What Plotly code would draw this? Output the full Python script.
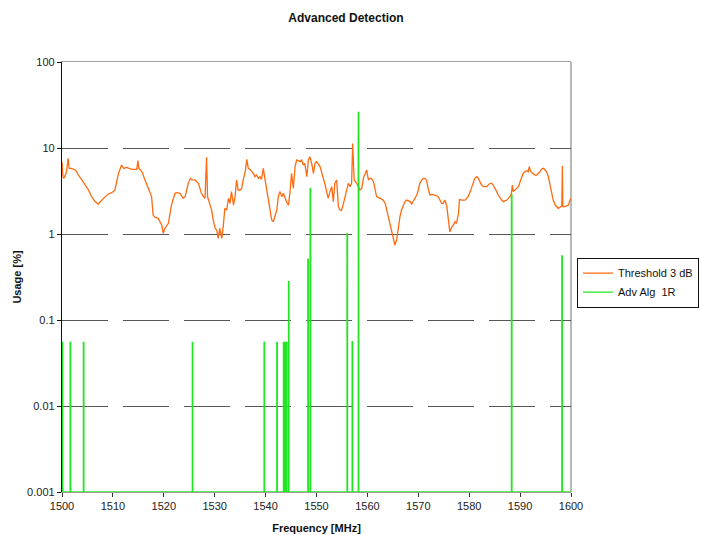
import plotly.graph_objects as go

# Threshold 3 dB usage curve (frequency in MHz, usage in %)
thr_freq = [
    1500.0, 1500.2, 1500.4, 1500.6, 1500.9, 1501.2, 1501.4, 1501.9, 1502.6, 1502.9,
    1503.2, 1503.9, 1504.5, 1505.2, 1505.8, 1506.5, 1507.1, 1507.8, 1508.5, 1509.1,
    1509.8, 1510.4, 1511.1, 1511.7, 1512.1, 1512.7, 1513.7, 1514.7, 1514.9, 1515.1,
    1515.7, 1516.3, 1517.0, 1517.6, 1517.9, 1518.3, 1518.9, 1519.6, 1519.9, 1520.2,
    1520.9, 1521.2, 1521.5, 1521.9, 1522.2, 1522.5, 1523.2, 1523.8, 1524.2, 1524.8,
    1525.2, 1525.5, 1526.1, 1526.8, 1527.4, 1527.8, 1528.1, 1528.4, 1528.6, 1528.8,
    1529.1, 1529.4, 1529.7, 1530.1, 1530.4, 1530.7,
    1531.0, 1531.4, 1531.7, 1532.0, 1532.35, 1532.7, 1533.0, 1533.3, 1533.7, 1534.0,
    1534.3, 1534.6, 1535.0, 1535.3, 1535.6, 1536.0, 1536.3, 1536.6, 1536.9, 1537.6,
    1537.9, 1538.2, 1538.6, 1538.9, 1539.2, 1539.55, 1539.9, 1540.2, 1540.5, 1540.9,
    1541.2, 1541.5, 1541.85, 1542.2, 1542.5, 1542.8, 1543.2, 1543.5, 1544.1, 1544.5,
    1544.8, 1545.1, 1545.45, 1545.8, 1546.1, 1546.8, 1547.1, 1547.4, 1547.7, 1548.1,
    1548.4, 1548.7, 1549.05, 1549.4, 1549.7, 1550.0, 1550.7, 1551.3, 1551.7, 1552.0,
    1552.3, 1552.65, 1553.0, 1553.3, 1553.6, 1553.96, 1554.3, 1554.6, 1554.9, 1555.3,
    1555.6, 1555.9, 1556.25, 1556.6, 1556.9, 1557.1, 1557.4, 1557.9, 1558.2, 1558.55,
    1558.9, 1559.2, 1559.85, 1560.2, 1560.5, 1560.8, 1561.2,
    1561.8, 1562.5, 1563.1, 1563.5, 1563.8, 1564.1, 1564.4, 1564.8, 1565.1, 1565.4,
    1565.75, 1566.1, 1566.4, 1566.7, 1567.1, 1567.4, 1567.7, 1568.4, 1568.7, 1569.0,
    1569.35, 1569.7, 1570.0, 1570.3, 1570.7, 1571.0, 1571.3, 1571.6, 1572.0, 1572.2,
    1572.3, 1572.6, 1573.3, 1573.9, 1574.3, 1574.6, 1574.9, 1575.25, 1575.6, 1575.9,
    1576.2, 1576.6, 1576.9, 1577.2, 1577.5, 1577.7, 1577.9, 1578.1, 1578.5, 1579.2,
    1579.5, 1579.8, 1580.2, 1580.5, 1580.8, 1581.1, 1581.5, 1581.8, 1582.1, 1582.45,
    1582.8, 1583.4, 1584.1, 1584.4, 1584.7, 1585.1, 1585.4, 1585.7, 1586.05, 1586.4,
    1586.7, 1587.4, 1587.7, 1588.0, 1588.3, 1588.47, 1588.67, 1589.3, 1589.65, 1590.0,
    1590.3, 1590.6, 1591.0, 1591.3, 1591.6, 1591.8, 1592.1, 1592.6, 1592.9, 1593.25,
    1593.9, 1594.2, 1594.6, 1594.9, 1595.2, 1595.55, 1595.9, 1596.2, 1596.5, 1596.9,
    1597.2, 1597.5, 1597.8, 1598.2, 1598.3, 1598.4, 1598.8, 1599.5, 1599.8, 1600.0,
]
thr_usage = [
    6.9, 4.6, 4.44, 4.85, 5.31, 7.58, 5.8, 5.8, 5.55, 5.31,
    4.85, 4.25, 3.71, 3.25, 2.72, 2.38, 2.23, 2.48, 2.72, 2.92,
    3.02, 3.25, 5.07, 6.34, 5.80, 5.96, 5.65, 5.65, 7.12, 5.80,
    5.31, 4.25, 3.25, 2.72, 1.66, 1.56, 1.52, 1.27, 1.02, 1.16,
    1.33, 1.66, 2.17, 2.60, 2.97, 3.02, 2.97, 2.60, 2.72, 3.88,
    4.44, 4.25, 4.25, 3.88, 2.97, 2.72, 2.60, 7.79, 2.72, 2.48,
    2.08, 1.90, 1.46, 1.16, 1.11, 0.89,
    1.16, 0.89, 1.27, 1.99, 1.90, 2.60, 2.27, 3.11, 2.17, 2.72,
    4.25, 3.25, 3.25, 3.40, 4.25, 5.31, 7.38, 5.80, 5.65, 5.07,
    4.64, 4.85, 4.44, 4.64, 4.32, 5.80, 4.25, 3.25, 2.48, 1.90,
    1.46, 1.39, 1.66, 1.90, 2.72, 3.11, 2.72, 2.97, 2.38, 2.17,
    3.11, 5.07, 3.40, 6.07, 7.25, 6.94, 7.25, 6.34, 6.63, 4.64,
    7.25, 7.93, 6.63, 5.07, 6.63, 6.94, 6.07, 4.64, 3.71, 3.11,
    2.60, 3.11, 3.55, 2.38, 3.88, 4.25, 2.08, 1.90, 1.87, 2.27,
    2.72, 3.11, 3.88, 3.55, 3.88, 11.3, 4.25, 3.88, 3.55, 3.25,
    3.40, 4.44, 5.55, 4.25, 4.44, 4.44, 4.06,
    2.72, 2.60, 2.48, 2.27, 1.90, 1.59, 1.27, 1.02, 0.85, 0.745,
    0.85, 1.22, 1.59, 1.90, 2.17, 2.38, 2.48, 2.38, 2.23, 2.38,
    2.60, 2.84, 3.25, 3.88, 4.25, 4.44, 4.44, 4.25, 3.25, 2.97,
    2.84, 2.89, 2.84, 2.72, 2.48, 2.27, 2.27, 2.48, 2.08, 1.52,
    1.06, 1.22, 1.27, 1.39, 1.33, 1.52, 1.74, 2.53, 2.48, 2.48,
    2.60, 2.72, 3.11, 3.55, 4.06, 4.44, 4.64, 4.44, 4.06, 3.71,
    3.55, 3.55, 3.88, 3.88, 3.71, 3.40, 3.11, 2.84, 2.60, 2.48,
    2.38, 2.48, 2.60, 2.72, 2.97, 3.71, 3.11, 3.40, 3.55, 4.06,
    4.64, 5.07, 5.31, 5.45, 5.31, 6.07, 5.31, 5.07, 4.85, 4.85,
    5.31, 5.70, 5.80, 5.55, 5.31, 4.64, 3.55, 2.84, 2.48, 2.17,
    2.08, 1.99, 2.04, 2.12, 6.18, 2.08, 2.08, 2.17, 2.48, 2.60,
]

# Adv Alg 1R detections: spike frequency (MHz) and usage (%)
alg_freq = [1500.05, 1501.6, 1504.2, 1525.6, 1539.7, 1542.2, 1543.5, 1543.8, 1544.1,
            1544.5, 1548.3, 1548.75, 1556.0, 1557.0, 1558.2, 1588.3, 1598.2]
alg_usage = [0.055, 0.055, 0.055, 0.055, 0.055, 0.055, 0.055, 0.055, 0.055,
             0.28, 0.51, 3.4, 1.0, 0.056, 26.0, 2.84, 0.555]
alg_floor = 0.001     # usage floor where nothing is detected
spike_width = 0.1     # MHz covered by one detection

# Axis tick labels
x_ticks = list(range(1500, 1601, 10))
y_tickvals = [0.001, 0.01, 0.1, 1, 10, 100]
y_ticktext = ["0.001", "0.01", "0.1", "1", "10", "100"]

# Build the detection trace as a floor line with narrow spikes
gx, gy = [1500.0], [alg_floor]
for f, u in zip(alg_freq, alg_usage):
    gx += [f, f, f + spike_width, f + spike_width]
    gy += [alg_floor, u, u, alg_floor]
gx.append(1600.0)
gy.append(alg_floor)

FONT = "Liberation Sans, Arial, sans-serif"

fig = go.Figure()
fig.add_trace(go.Scatter(
    x=thr_freq, y=thr_usage, mode="lines", name="Threshold 3 dB",
    line=dict(color="#ff6a10", width=1.3),
))
fig.add_trace(go.Scatter(
    x=gx, y=gy, mode="lines", name="Adv Alg\u00a0 1R",
    line=dict(color="#22e622", width=1.3),
))

fig.update_layout(
    width=701, height=535,
    margin=dict(l=62, r=130, t=62, b=43, autoexpand=False),
    paper_bgcolor="white", plot_bgcolor="white",
    font=dict(family=FONT, size=11, color="#1a1a1a"),
    title=dict(text="<b>Advanced Detection</b>", x=346 / 701, xref="container",
               xanchor="center", y=1 - 18 / 535, yref="container", yanchor="middle",
               font=dict(family=FONT, size=12, color="#111")),
    showlegend=True,
    legend=dict(x=1.0118, y=0.545, xanchor="left", yanchor="top",
                bordercolor="#111", borderwidth=1, bgcolor="white",
                font=dict(family=FONT, size=11, color="#111"),
                tracegroupgap=0, itemwidth=30),
)

fig.update_xaxes(
    range=[1500, 1600], tickvals=x_ticks, ticks="outside", ticklen=4,
    tickcolor="#333", showgrid=False, zeroline=False,
    showline=True, linecolor="#a0a0a0", linewidth=1, mirror=True,
    title=dict(text="<b>Frequency [MHz]</b>", standoff=13,
               font=dict(family=FONT, size=11, color="#111")),
    tickfont=dict(family=FONT, size=11, color="#222"),
)
fig.update_yaxes(
    type="log", range=[-3, 2], tickvals=y_tickvals, ticktext=y_ticktext,
    ticks="outside", ticklen=4, tickcolor="#111",
    showgrid=True, gridcolor="#555", gridwidth=1, griddash="46px,15px",
    zeroline=False, showline=True, linecolor="#111", linewidth=1.3,
    title=dict(text="<b>Usage [%]</b>", standoff=3,
               font=dict(family=FONT, size=11, color="#111")),
    tickfont=dict(family=FONT, size=11, color="#222"),
)

# right-hand frame edge of the plot area
fig.add_shape(type="line", xref="paper", yref="paper", x0=1, x1=1, y0=0, y1=1,
              line=dict(color="#a0a0a0", width=1.5), layer="below")

fig.write_html("out.html")
